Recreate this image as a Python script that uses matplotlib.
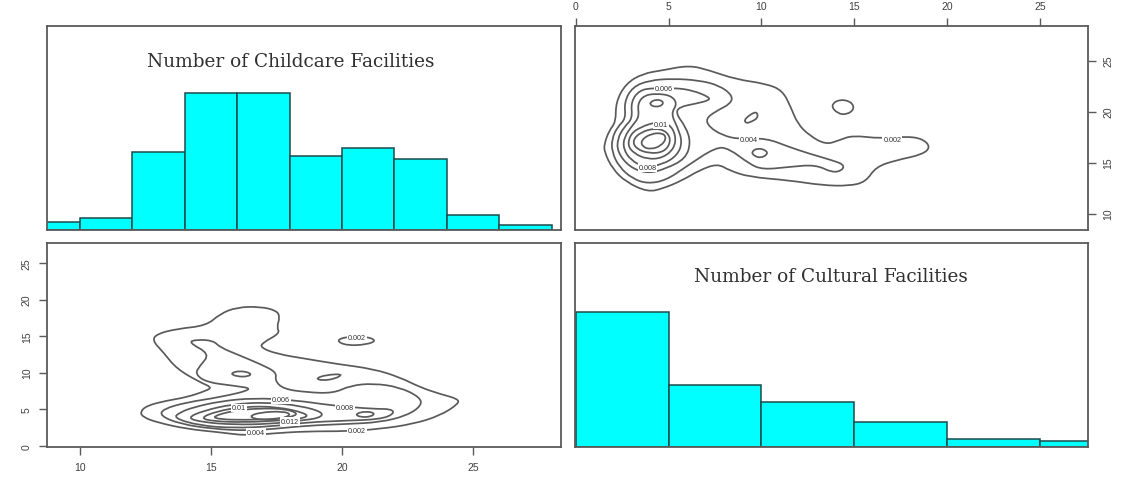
import numpy as np
import matplotlib
matplotlib.use("Agg")
import matplotlib.pyplot as plt
from matplotlib.path import Path
from matplotlib.patches import PathPatch

# ---------- data ----------
child_edges = [8, 10, 12, 14, 16, 18, 20, 22, 24, 26, 28]
child_counts = [1.5, 2.3, 14.8, 26, 26, 14, 15.5, 13.5, 2.8, 1]
cult_edges = [0, 5, 10, 15, 20, 25, 30]
cult_counts = [60, 27.5, 20, 11, 3.5, 2.5]

title_child = "Number of Childcare Facilities"
title_cult = "Number of Cultural Facilities"

# upper-right density: x = cultural, y = childcare
ur_a = [(1.53,16.87),(1.80,18.17),(2.15,18.99),(2.15,20.95),(2.69,22.75),(3.59,23.73),(4.67,24.06),(6.10,24.55),(7.18,24.06),(8.62,23.17),(10.23,22.75),(11.13,22.09),(11.58,20.46),(11.94,18.83),(12.57,17.68),(13.46,16.77),(14.18,17.19),(14.90,17.68),(16.42,17.36),(17.77,17.58),(18.67,17.36),(19.12,16.54),(18.67,15.79),(17.23,15.23),(16.16,14.58),(15.62,13.11),(14.72,12.72),(13.28,12.78),(11.49,13.27),(9.33,13.60),(8.26,14.25),(7.63,14.91),(6.64,14.25),(5.74,13.27),(4.67,12.45),(3.86,12.13),(2.69,13.11),(1.97,14.41),(1.53,16.05)]
ur_b = [(8.80,17.29),(7.90,17.68),(7.18,18.50),(7.00,19.32),(7.54,20.04),(8.35,20.79),(8.44,21.60),(7.72,22.58),(6.64,23.07),(5.21,23.24),(3.95,23.07),(3.05,22.42),(2.60,20.95),(2.69,19.32),(2.24,18.50),(1.94,17.36),(1.94,16.05),(2.33,14.58),(3.05,13.43),(3.86,12.94),(4.85,13.27),(5.92,14.58),(7.54,16.54),(8.26,16.38),(9.33,14.90),(10.05,14.32),(11.49,14.58),(12.92,14.81),(13.82,14.02),(14.36,14.25),(14.45,14.81),(13.82,15.23),(12.57,15.89),(11.49,16.54),(10.23,17.42)]
ur_c = [(13.73,20.62),(14.18,21.21),(14.81,21.02),(15.02,20.30),(14.63,19.71),(14.09,19.81)]
ur_d = [(9.06,19.15),(9.33,19.64),(9.75,20.04),(9.82,19.38),(9.42,18.99),(9.19,18.86)]
ur_e = [(9.46,16.05),(9.78,16.44),(10.27,16.21),(10.32,15.79),(9.96,15.46),(9.60,15.66)]
ur_f = [(5.39,22.32),(6.28,22.09),(7.18,21.44),(7.18,21.11),(6.46,20.79),(5.56,20.46),(5.39,19.81),(5.92,18.50),(6.19,17.03),(5.92,15.40),(4.85,14.41),(3.86,13.92),(2.87,14.58),(2.24,16.05),(2.24,17.36),(2.60,18.50),(3.05,19.32),(2.96,20.95),(3.41,22.09),(4.13,22.32)]
ur_g = [(4.31,21.77),(5.12,21.60),(5.47,20.79),(5.12,19.81),(5.47,18.50),(5.74,17.03),(5.47,15.72),(4.67,14.81),(3.68,14.58),(2.96,15.23),(2.55,16.38),(2.60,17.52),(3.05,18.66),(3.41,19.48),(3.32,20.79),(3.68,21.60)]
ur_h = [(3.98,20.89),(4.31,21.21),(4.70,21.05),(4.67,20.62),(4.31,20.46),(4.04,20.62)]
ur_i = [(4.31,18.99),(5.03,18.83),(5.39,17.68),(5.30,16.38),(4.67,15.46),(3.86,15.33),(3.14,15.89),(2.78,16.70),(2.96,17.85),(3.50,18.50)]
ur_j = [(4.31,18.40),(4.94,18.01),(5.12,17.03),(4.76,16.05),(3.95,15.89),(3.23,16.38),(3.05,17.19),(3.50,18.01)]
ur_k = [(3.50,17.19),(4.04,17.85),(4.70,17.91),(4.88,17.36),(4.58,16.64),(4.04,16.31),(3.59,16.54)]
ur_labels = [("0.002",17.05,17.32),("0.004",9.33,17.26),("0.006",4.76,22.26),("0.01",4.58,18.73),("0.008",3.86,14.51)]

# lower-left density: x = childcare, y = cultural
ll_a = [(12.29,4.57),(12.54,5.48),(13.31,6.17),(14.07,6.63),(14.83,7.54),(15.03,8.0),(14.58,8.68),(13.69,10.51),(13.18,12.79),(12.76,14.39),(12.93,15.30),(13.69,15.99),(14.83,16.44),(15.34,18.04),(15.98,18.95),(16.87,19.04),(17.51,18.50),(17.63,17.58),(17.51,16.21),(17.63,15.39),(17.00,14.16),(16.87,13.47),(17.51,12.56),(18.65,11.88),(19.80,11.19),(21.20,10.51),(22.21,9.36),(22.98,8.0),(23.74,7.08),(24.44,6.40),(24.44,5.71),(23.74,4.11),(22.72,2.97),(21.45,2.29),(20.18,1.97),(18.65,1.97),(17.38,1.69),(16.36,1.37),(15.34,1.83),(14.07,2.29),(12.93,3.2),(12.42,3.89)]
ll_b = [(14.13,14.16),(14.96,12.56),(14.58,10.96),(14.39,9.82),(14.83,8.68),(15.85,8.22),(16.68,7.77),(15.34,6.63),(14.07,5.94),(13.18,5.03),(13.05,4.11),(13.82,2.97),(15.09,2.29),(16.36,2.06),(17.38,2.29),(18.65,2.74),(20.18,2.97),(21.45,3.2),(22.47,4.11),(23.04,5.48),(22.98,6.63),(22.21,8.0),(21.20,8.54),(20.31,8.22),(19.67,7.17),(18.65,7.31),(17.76,7.77),(17.44,8.91),(17.51,10.05),(16.87,11.19),(16.11,12.33),(15.34,13.47),(15.09,14.39),(14.45,14.53)]
ll_c = [(19.77,14.39),(20.18,14.94),(20.94,14.94),(21.32,14.39),(20.94,13.84),(20.18,13.70)]
ll_d = [(15.73,9.91),(16.11,10.28),(16.55,9.91),(16.43,9.46),(15.98,9.46)]
ll_e = [(19.0,9.23),(19.41,9.70),(20.05,9.82),(19.73,9.14),(19.22,8.91)]
ll_f = [(20.50,4.34),(20.88,4.71),(21.26,4.48),(21.13,3.98),(20.69,3.89)]
ll_g = [(13.56,3.79),(13.82,4.57),(14.33,5.26),(15.34,6.08),(16.62,6.53),(18.14,6.26),(19.67,5.48),(21.20,5.03),(21.90,5.03),(21.99,4.34),(21.45,3.61),(20.18,3.43),(18.65,3.2),(17.25,2.61),(15.85,2.42),(14.58,2.74)]
ll_h = [(14.07,3.79),(14.71,4.79),(15.85,5.71),(17.14,5.94),(18.40,5.48),(19.29,4.57),(19.16,3.79),(18.40,3.43),(17.25,2.97),(15.85,2.88),(14.71,3.2)]
ll_i = [(14.58,3.79),(15.22,4.71),(16.23,5.35),(17.51,5.35),(18.65,4.43),(18.65,3.79),(17.63,3.43),(16.23,3.2),(15.09,3.34)]
ll_j = [(15.03,3.98),(15.85,4.8),(16.87,5.12),(17.89,5.03),(18.40,4.25),(17.63,3.66),(16.23,3.52),(15.34,3.61)]
ll_k = [(16.43,3.98),(16.87,4.57),(17.76,4.71),(18.08,4.25),(17.63,3.61),(16.87,3.52)]
ll_labels = [("0.002",20.56,14.75),("0.006",17.66,6.31),("0.01",16.08,5.16),("0.008",20.12,5.16),("0.012",18.0,3.34),("0.004",16.72,1.83),("0.002",20.56,2.06)]

ticks_x_ll = [10, 15, 20, 25]
ticks_y_ll = [0, 5, 10, 15, 20, 25]
ticks_x_ur = [0, 5, 10, 15, 20, 25]
ticks_y_ur = [10, 15, 20, 25]

# ---------- style ----------
W, H = 1146, 485
plt.rcParams["font.family"] = ["Liberation Sans", "DejaVu Sans"]
fig = plt.figure(figsize=(W / 100, H / 100), dpi=100)
GREY = "#5a5a5a"
TXT = "#404040"
CYAN = "#00ffff"
EDGE = "#1c4a4a"

def panel(x0, y0, x1, y1):
    ax = fig.add_axes([x0 / W, 1 - y1 / H, (x1 - x0) / W, (y1 - y0) / H])
    for s in ax.spines.values():
        s.set_color(GREY)
        s.set_linewidth(1.3)
    ax.set_xticks([])
    ax.set_yticks([])
    return ax

def closed(ax, pts):
    p = np.asarray(pts, float)
    n = len(p)
    verts = [(p[-1] + p[0]) / 2]
    codes = [Path.MOVETO]
    for i in range(n):
        verts += [p[i], (p[i] + p[(i + 1) % n]) / 2]
        codes += [Path.CURVE3, Path.CURVE3]
    ax.add_patch(PathPatch(Path(verts, codes), fill=False, ec=GREY, lw=1.25, zorder=2))

def labels(ax, items):
    for s, x, y in items:
        ax.text(x, y, s, fontsize=5.2, color="#303030", ha="center", va="center", zorder=3,
                bbox=dict(fc="white", ec="none", pad=0.6))

def hist(ax, edges, counts):
    e = np.asarray(edges, float)
    ax.bar(e[:-1], counts, width=np.diff(e), align="edge", color=CYAN, edgecolor=EDGE, linewidth=1.1)

# top-left histogram
ax1 = panel(47, 27, 561, 231)
hist(ax1, child_edges, child_counts)
ax1.set_xlim(8.74, 28.36)
ax1.set_ylim(0, 38.7)
fig.text(291 / W, 1 - 62 / H, title_child, family="DejaVu Serif", fontsize=13.3, color="#303030",
         ha="center", va="center")

# top-right contour
ax2 = panel(575, 27, 1088, 231)
for c in (ur_a, ur_b, ur_c, ur_d, ur_e, ur_f, ur_g, ur_h, ur_i, ur_j, ur_k):
    closed(ax2, c)
labels(ax2, ur_labels)
ax2.set_xlim(-0.05, 27.6)
ax2.set_ylim(8.4, 28.4)
ax2.xaxis.tick_top()
ax2.yaxis.tick_right()
ax2.set_xticks(ticks_x_ur)
ax2.set_yticks(ticks_y_ur)
ax2.tick_params(axis="both", length=6, width=1, color=GREY, labelsize=7.5, labelcolor=TXT, pad=5)
for t in ax2.get_yticklabels():
    t.set_rotation(90)
    t.set_va("center")

# bottom-left contour
ax3 = panel(47, 244, 561, 448)
for c in (ll_a, ll_b, ll_c, ll_d, ll_e, ll_f, ll_g, ll_h, ll_i, ll_j, ll_k):
    closed(ax3, c)
labels(ax3, ll_labels)
ax3.set_xlim(8.74, 28.36)
ax3.set_ylim(-0.18, 27.75)
ax3.set_xticks(ticks_x_ll)
ax3.set_yticks(ticks_y_ll)
ax3.tick_params(axis="both", length=6, width=1, color=GREY, labelsize=7.5, labelcolor=TXT, pad=5)
for t in ax3.get_yticklabels():
    t.set_rotation(90)
    t.set_va("center")

# bottom-right histogram
ax4 = panel(575, 244, 1088, 448)
hist(ax4, cult_edges, cult_counts)
ax4.set_xlim(-0.05, 27.6)
ax4.set_ylim(0, 90.7)
fig.text(831 / W, 1 - 277 / H, title_cult, family="DejaVu Serif", fontsize=13.3, color="#303030",
         ha="center", va="center")

fig.savefig("out.png", dpi=100)
